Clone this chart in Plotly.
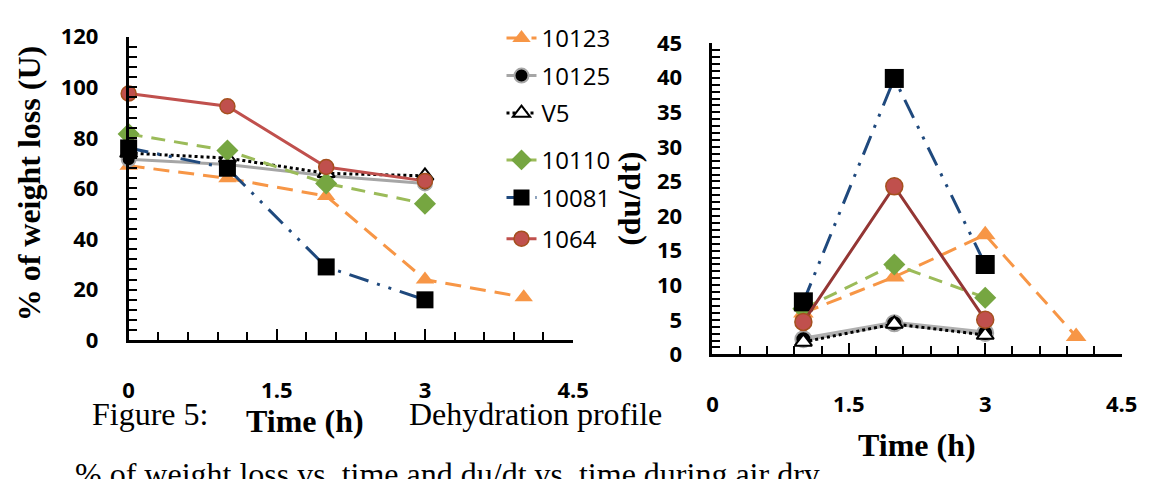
import plotly.graph_objects as go

W, H = 1169, 479

# ---------------- data ----------------
time_left = [0, 1, 2, 3, 4]
time_right = [1, 2, 3, 4]

series_names = ["10123", "10125", "V5", "10110", "10081", "1064"]

loss_10123 = [69, 64, 57, 24, 17]
loss_10125 = [71.5, 69.5, 65, 62]
loss_v5 = [74, 72, 66, 65]
loss_10110 = [81.5, 75, 62, 54]
loss_10081 = [76, 68, 29, 16]
loss_1064 = [97.5, 92.5, 68.5, 63]

rate_10123 = [6.0, 11.2, 17.3, 2.6]
rate_10125 = [2.2, 4.5, 3.1]
rate_v5 = [1.8, 4.4, 2.8]
rate_10110 = [6.6, 13.0, 8.2]
rate_10081 = [7.6, 39.9, 13.0]
rate_1064 = [4.7, 24.3, 5.0]

x_ticks = [0, 1.5, 3, 4.5]
x_tick_labels = ["0", "1.5", "3", "4.5"]

loss_data = [loss_10123, loss_10125, loss_v5, loss_10110, loss_10081, loss_1064]
rate_data = [rate_10123, rate_10125, rate_v5, rate_10110, rate_10081, rate_1064]

# ---------------- styles ----------------
styles = {
    "10123": dict(line=dict(color="#F79646", width=3, dash="16px,9px"),
                  marker=dict(symbol="triangle-up", size=16, color="#F79646", line=dict(width=0))),
    "10125": dict(line=dict(color="#A6A6A6", width=3, dash="solid"),
                  marker=dict(symbol="circle", size=14, color="black", line=dict(color="#A6A6A6", width=2))),
    "V5": dict(line=dict(color="black", width=3, dash="dot"),
               marker=dict(symbol="triangle-up", size=15, color="white", line=dict(color="black", width=2))),
    "10110": dict(line=dict(color="#9BBB59", width=3, dash="14px,9px"),
                  marker=dict(symbol="diamond", size=17, color="#76A641", line=dict(width=0))),
    "10081": dict(line=dict(color="#1F497D", width=3, dash="20px,9px,3px,9px,3px,9px"),
                  marker=dict(symbol="square", size=17, color="black", line=dict(width=0))),
    "1064": dict(line=dict(color="#C0504D", width=3, dash="solid"),
                 marker=dict(symbol="circle", size=15, color="#C0504D", line=dict(color="#A5501E", width=1.5))),
}
right_line_override = {"1064": "#943634", "10125": "#B0B0B0"}

legend_pos = {"10123": 24, "10125": 64, "V5": 104, "10110": 154, "10081": 194, "1064": 238}

fig = go.Figure()

for i, name in enumerate(series_names):
    st = styles[name]
    lg = "legend" if i == 0 else f"legend{i+1}"
    ys = loss_data[i]
    fig.add_trace(go.Scatter(
        x=time_left[:len(ys)], y=ys, mode="lines+markers", name=name,
        line=st["line"], marker=st["marker"], xaxis="x", yaxis="y",
        legend=lg, showlegend=True, cliponaxis=False))

for i, name in enumerate(series_names):
    st = styles[name]
    ys = rate_data[i]
    line = dict(st["line"])
    if name in right_line_override:
        line["color"] = right_line_override[name]
    if name == "10125":
        line["width"] = 5
    marker = dict(st["marker"])
    if name in ("10125", "10081", "1064", "10123"):
        marker["size"] = marker["size"] + 2
    fig.add_trace(go.Scatter(
        x=time_right[:len(ys)], y=ys, mode="lines+markers", name=name,
        line=line, marker=marker, xaxis="x2", yaxis="y2",
        showlegend=False, cliponaxis=False))

tickfont = dict(family="Open Sans", size=22, color="black", weight="bold")
NB = "\u00a0"


def px(x):
    return x / W


def py(y):
    return (H - y) / H


def xax(domain, anchor):
    return dict(domain=domain, anchor=anchor, range=[0, 4.5], tickvals=x_ticks,
                ticktext=["<br>" + t for t in x_tick_labels],
                showline=True, linecolor="black", linewidth=3,
                ticks="inside", ticklen=11, tickwidth=2, tickcolor="black",
                showgrid=False, zeroline=False, tickfont=tickfont,
                minor=dict(dtick=0.3, ticks="inside", ticklen=8, tickwidth=2,
                           tickcolor="black", showgrid=False))


def yax(domain, anchor, rng, dtick, mdtick):
    return dict(domain=domain, anchor=anchor, range=rng, dtick=dtick,
                ticksuffix=NB * 4,
                showline=True, linecolor="black", linewidth=3,
                ticks="inside", ticklen=8, tickwidth=2, tickcolor="black",
                showgrid=False, zeroline=False, tickfont=tickfont,
                minor=dict(dtick=mdtick, ticks="inside", ticklen=8, tickwidth=2,
                           tickcolor="black", showgrid=False))


layout = dict(
    width=W, height=H, margin=dict(l=0, r=0, t=0, b=0),
    paper_bgcolor="white", plot_bgcolor="rgba(0,0,0,0)",
    xaxis=xax([px(125), px(578)], "y"),
    yaxis=yax([py(346), py(22)], "x", [0, 120], 20, 4),
    xaxis2=xax([px(720), px(1137)], "y2"),
    yaxis2=yax([py(361), py(29)], "x2", [0, 45], 5, 1),
)

legend_font = dict(family="Open Sans", size=24, color="black")
for i, name in enumerate(series_names):
    key = "legend" if i == 0 else f"legend{i+1}"
    layout[key] = dict(x=px(505), xanchor="left", y=py(legend_pos[name]), yanchor="middle",
                       bgcolor="rgba(0,0,0,0)", borderwidth=0, font=legend_font,
                       itemsizing="trace")

serif_bold = dict(family="Liberation Serif", size=32, color="black", weight="bold")
serif = dict(family="Liberation Serif", size=32, color="black")

annotations = [
    dict(text="% of weight loss (U)", x=px(23), y=py(179), textangle=-90, font=serif_bold),
    dict(text="(du/dt)", x=px(635), y=py(195), textangle=-90, font=serif_bold),
    dict(text="Time (h)", x=px(305), y=py(432), font=serif_bold),
    dict(text="Time (h)", x=px(928), y=py(458), font=serif_bold),
    dict(text="Figure 5:", x=px(86), xanchor="left", y=py(425), font=serif),
    dict(text="Dehydration profile", x=px(409), xanchor="left", y=py(425), font=serif),
    dict(text="% of weight loss vs. time and du/dt vs. time during air dry", x=px(68),
         xanchor="left", y=py(489), font=serif),
]
for a in annotations:
    a.update(xref="paper", yref="paper", showarrow=False)
    a.setdefault("xanchor", "center")
    a.setdefault("yanchor", "middle")
layout["annotations"] = annotations

fig.update_layout(**layout)
fig.write_html("out.html")
